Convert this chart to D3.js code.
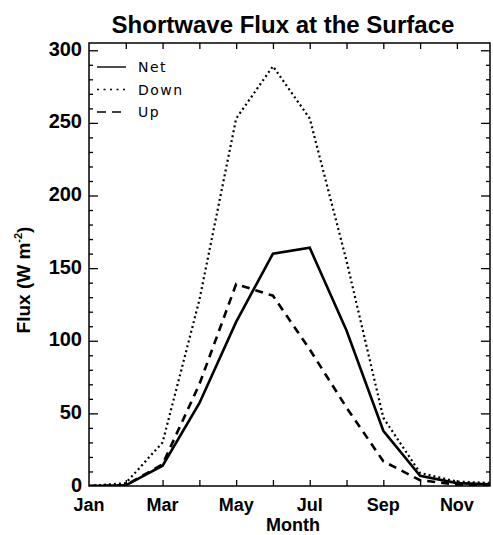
<!DOCTYPE html>
<html>
<head>
<meta charset="utf-8">
<script src="https://cdn.jsdelivr.net/npm/d3@7"></script>
<style>
  html, body { margin: 0; padding: 0; background: #fff; }
  svg { display: block; }
</style>
</head>
<body>
<svg id="chart" width="493" height="535"></svg>
<script>
// ---- data ----
const months = ["Jan","Feb","Mar","Apr","May","Jun","Jul","Aug","Sep","Oct","Nov","Dec"];
const monthNums = [1,2,3,4,5,6,7,8,9,10,11,12];
const netFlux  = [0, 0.5, 14, 57, 113, 160, 164, 107, 38, 7, 2, 1];
const downFlux = [0, 2, 30, 128, 253, 289, 253, 155, 47, 9, 3, 2];
const upFlux   = [0, 0.5, 15, 70, 139, 131, 94, 54, 17, 4, 1, 0.5];
const xTickLabels = ["Jan","Mar","May","Jul","Sep","Nov"];
const yTickValues = [0, 50, 100, 150, 200, 250, 300];
const seriesNames = ["Net","Down","Up"];

// ---- layout ----
const svg = d3.select("#chart");
const L = 89, R = 490, T = 43, B = 486;
const x = d3.scaleLinear().domain([1, 11.9]).range([L, R]);
const y = d3.scaleLinear().domain([0, 305]).range([B, T]);
const font = "'Liberation Sans', Arial, Helvetica, sans-serif";

svg.append("defs").append("clipPath").attr("id", "plotclip")
  .append("rect").attr("x", L).attr("y", T).attr("width", R - L).attr("height", B - T);

// frame
svg.append("rect").attr("x", L).attr("y", T).attr("width", R - L).attr("height", B - T)
  .attr("fill", "none").attr("stroke", "#000").attr("stroke-width", 1.5);

// axes (ticks inside)
const monthTicks = monthNums.filter(m => m > 1 && m < 12);
const xBottom = d3.axisBottom(x).tickValues(monthTicks).tickSize(-6).tickFormat("");
const xTop = d3.axisTop(x).tickValues(monthTicks).tickSize(-6).tickFormat("");
const minorY = d3.range(10, 300, 10).filter(v => v % 50 !== 0);
function styleAxis(g) {
  g.select(".domain").remove();
  g.selectAll(".tick line").attr("stroke", "#000").attr("stroke-width", 1.3);
}
svg.append("g").attr("transform", `translate(0,${B})`).call(xBottom).call(styleAxis);
svg.append("g").attr("transform", `translate(0,${T})`).call(xTop).call(styleAxis);
svg.append("g").attr("transform", `translate(${L},0)`)
  .call(d3.axisLeft(y).tickValues(yTickValues.filter(v => v > 0)).tickSize(-9).tickFormat("")).call(styleAxis);
svg.append("g").attr("transform", `translate(${L},0)`)
  .call(d3.axisLeft(y).tickValues(minorY).tickSize(-4).tickFormat("")).call(styleAxis);
svg.append("g").attr("transform", `translate(${R},0)`)
  .call(d3.axisRight(y).tickValues(yTickValues.filter(v => v > 0)).tickSize(-9).tickFormat("")).call(styleAxis);
svg.append("g").attr("transform", `translate(${R},0)`)
  .call(d3.axisRight(y).tickValues(minorY).tickSize(-4).tickFormat("")).call(styleAxis);

// tick labels
svg.append("g").selectAll("text").data(yTickValues).join("text")
  .attr("x", L - 7).attr("y", d => y(d)).attr("dy", "0.28em")
  .attr("text-anchor", "end").attr("font-family", font).attr("font-weight", "bold")
  .attr("font-size", 20).text(d => d);
svg.append("g").selectAll("text").data(xTickLabels).join("text")
  .attr("x", d => x(months.indexOf(d) + 1)).attr("y", 511)
  .attr("text-anchor", "middle").attr("font-family", font).attr("font-weight", "bold")
  .attr("font-size", 18).text(d => d);

// axis titles
svg.append("text").attr("x", 293).attr("y", 531)
  .attr("text-anchor", "middle").attr("font-family", font).attr("font-weight", "bold")
  .attr("font-size", 18).text("Month");
const yl = svg.append("text").attr("transform", "translate(30,280) rotate(-90)")
  .attr("text-anchor", "middle").attr("font-family", font).attr("font-weight", "bold")
  .attr("font-size", 19);
yl.append("tspan").text("Flux (W m");
yl.append("tspan").attr("dy", -8).attr("font-size", 11).text("-2");
yl.append("tspan").attr("dy", 8).text(")");

// title
svg.append("text").attr("x", 283).attr("y", 33).attr("text-anchor", "middle")
  .attr("font-family", font).attr("font-weight", "bold").attr("font-size", 24)
  .text("Shortwave Flux at the Surface");

// series lines
const styles = {
  Net:  { data: netFlux,  dash: null,  width: 2.6 },
  Down: { data: downFlux, dash: "2,3", width: 2.2 },
  Up:   { data: upFlux,   dash: "8,6", width: 2.6 }
};
const line = d3.line().x((d, i) => x(monthNums[i])).y(d => y(d));
const plot = svg.append("g").attr("clip-path", "url(#plotclip)");
seriesNames.forEach(name => {
  const s = styles[name];
  plot.append("path").datum(s.data).attr("d", line)
    .attr("fill", "none").attr("stroke", "#000").attr("stroke-width", s.width)
    .attr("stroke-linejoin", "miter")
    .attr("stroke-dasharray", s.dash);
});

// legend
const legStyles = { Net: null, Down: "2,4.5", Up: "9,6" };
seriesNames.forEach((name, i) => {
  const cy = 67 + i * 22.5;
  svg.append("line").attr("x1", 97).attr("x2", 126).attr("y1", cy).attr("y2", cy)
    .attr("stroke", "#000").attr("stroke-width", 1.4)
    .attr("stroke-dasharray", legStyles[name]);
  svg.append("text").attr("x", 138).attr("y", cy).attr("dy", "0.36em")
    .attr("font-family", "'DejaVu Sans', sans-serif").attr("font-weight", "normal")
    .attr("fill", "#000")
    .attr("font-size", 14).attr("letter-spacing", 1.5).text(name);
});
</script>
</body>
</html>
